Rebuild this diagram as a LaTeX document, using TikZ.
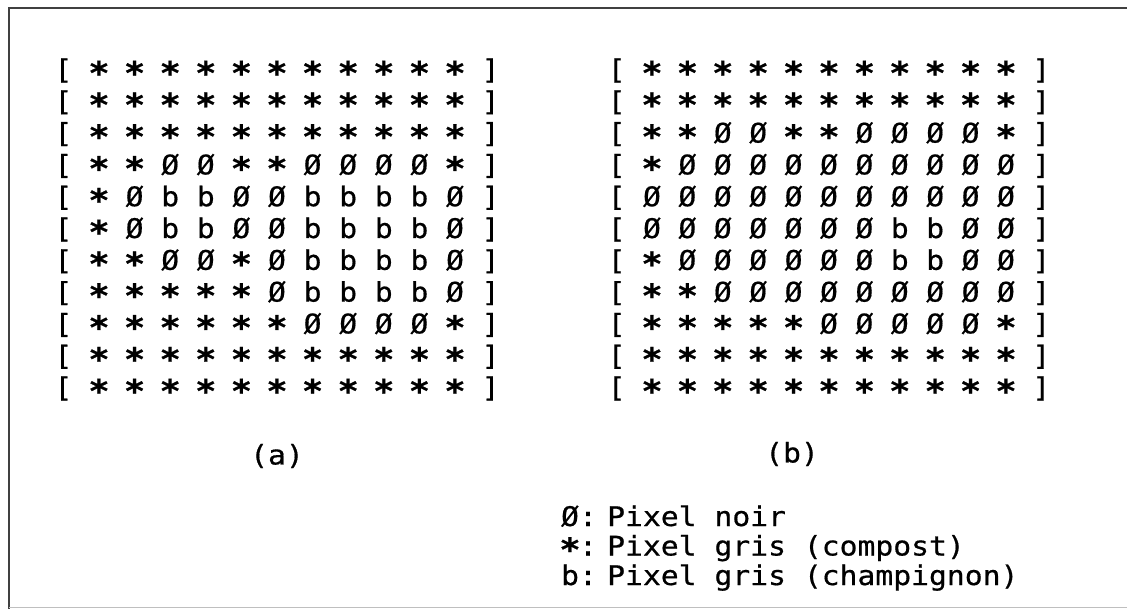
\documentclass[tikz,border=0pt]{standalone}
\usepackage{fontspec}
\newfontfamily\pixmono[FakeStretch=1.1,FakeBold=0.6]{DejaVu Sans Mono}
\newcommand\lowstar{\raisebox{-0.2em}[0.55em][0pt]{\fontsize{32}{32}\selectfont\bfseries *}}
\begin{document}
\begin{tikzpicture}[x=1pt,y=-1pt,
  txt/.style={font=\pixmono\fontsize{27}{30}\selectfont, inner sep=0pt, text=black},
  cell/.style={txt, anchor=base},
  legtext/.style={txt, anchor=base west},
  framestyle/.style={line width=2pt, draw=black!75}]
\useasboundingbox (0,0) rectangle (1127,609);
% frame
\coordinate (ftl) at (9,8);
\coordinate (ftr) at (1127,8);
\coordinate (fbl) at (9,609);
\coordinate (fbr) at (1127,607);
\draw[framestyle] (ftr) -- (ftl) -- (fbl);
\draw[line width=0.8pt, draw=black!25] (9,607) -- (fbr);
% grid (a)
\foreach \row [count=\i] in {
 {*,*,*,*,*,*,*,*,*,*,*},
 {*,*,*,*,*,*,*,*,*,*,*},
 {*,*,*,*,*,*,*,*,*,*,*},
 {*,*,Ø,Ø,*,*,Ø,Ø,Ø,Ø,*},
 {*,Ø,b,b,Ø,Ø,b,b,b,b,Ø},
 {*,Ø,b,b,Ø,Ø,b,b,b,b,Ø},
 {*,*,Ø,Ø,*,Ø,b,b,b,b,Ø},
 {*,*,*,*,*,Ø,b,b,b,b,Ø},
 {*,*,*,*,*,*,Ø,Ø,Ø,Ø,*},
 {*,*,*,*,*,*,*,*,*,*,*},
 {*,*,*,*,*,*,*,*,*,*,*}}{
  \node[cell] (aL-\i) at (63.4,{79+31.8*(\i-1)}) {[};
  \node[cell] (aR-\i) at (490.6,{79+31.8*(\i-1)}) {]};
  \foreach \c [count=\j] in \row {
    \if*\c
      \node[cell] (a-\i-\j) at ({99+35.6*(\j-1)},{79+31.8*(\i-1)}) {\lowstar};
    \else
      \node[cell] (a-\i-\j) at ({99+35.6*(\j-1)},{79+31.8*(\i-1)}) {\c};
    \fi
  }
}
% grid (b)
\foreach \row [count=\i] in {
 {*,*,*,*,*,*,*,*,*,*,*},
 {*,*,*,*,*,*,*,*,*,*,*},
 {*,*,Ø,Ø,*,*,Ø,Ø,Ø,Ø,*},
 {*,Ø,Ø,Ø,Ø,Ø,Ø,Ø,Ø,Ø,Ø},
 {Ø,Ø,Ø,Ø,Ø,Ø,Ø,Ø,Ø,Ø,Ø},
 {Ø,Ø,Ø,Ø,Ø,Ø,Ø,b,b,Ø,Ø},
 {*,Ø,Ø,Ø,Ø,Ø,Ø,b,b,Ø,Ø},
 {*,*,Ø,Ø,Ø,Ø,Ø,Ø,Ø,Ø,Ø},
 {*,*,*,*,*,Ø,Ø,Ø,Ø,Ø,*},
 {*,*,*,*,*,*,*,*,*,*,*},
 {*,*,*,*,*,*,*,*,*,*,*}}{
  \node[cell] (bL-\i) at (616.6,{79+31.8*(\i-1)}) {[};
  \node[cell] (bR-\i) at (1041.4,{79+31.8*(\i-1)}) {]};
  \foreach \c [count=\j] in \row {
    \if*\c
      \node[cell] (b-\i-\j) at ({652+35.4*(\j-1)},{79+31.8*(\i-1)}) {\lowstar};
    \else
      \node[cell] (b-\i-\j) at ({652+35.4*(\j-1)},{79+31.8*(\i-1)}) {\c};
    \fi
  }
}
% labels
\node[txt] (laba) at (277,456) {(a)};
\node[txt] (labb) at (792,454) {(b)};
% legend
\node[cell] (sym1) at (570,526) {Ø};
\node[cell] (sym2) at (570,555.5) {\lowstar};
\node[cell] (sym3) at (570,585) {b};
\node[cell] (col1) at (588,526) {:};
\node[cell] (col2) at (588,555.5) {:};
\node[cell] (col3) at (588,585) {:};
\node[legtext] (leg1) at (607,526) {Pixel noir};
\node[legtext] (leg2) at (607,555.5) {Pixel gris (compost)};
\node[legtext] (leg3) at (607,585) {Pixel gris (champignon)};
\end{tikzpicture}
\end{document}
